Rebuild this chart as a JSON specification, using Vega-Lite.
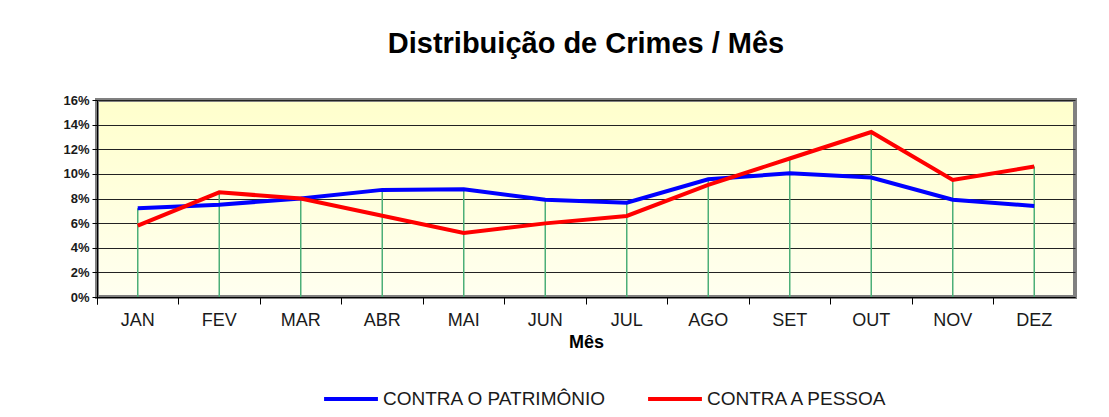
{
  "$schema": "https://vega.github.io/schema/vega-lite/v6.json",
  "width": 978,
  "height": 197,
  "autosize": "none",
  "padding": {"left": 97, "top": 100, "right": 34, "bottom": 120},
  "background": "white",
  "title": {
    "text": "Distribuição de Crimes / Mês",
    "font": "Liberation Sans",
    "fontSize": 29,
    "fontWeight": "bold",
    "color": "#000000",
    "anchor": "middle",
    "frame": "group",
    "offset": 35
  },
  "data": {
    "values": [
      {"mes": "JAN", "serie": "CONTRA O PATRIMÔNIO", "valor": 0.072},
      {"mes": "FEV", "serie": "CONTRA O PATRIMÔNIO", "valor": 0.075},
      {"mes": "MAR", "serie": "CONTRA O PATRIMÔNIO", "valor": 0.080},
      {"mes": "ABR", "serie": "CONTRA O PATRIMÔNIO", "valor": 0.087},
      {"mes": "MAI", "serie": "CONTRA O PATRIMÔNIO", "valor": 0.0875},
      {"mes": "JUN", "serie": "CONTRA O PATRIMÔNIO", "valor": 0.079},
      {"mes": "JUL", "serie": "CONTRA O PATRIMÔNIO", "valor": 0.0766},
      {"mes": "AGO", "serie": "CONTRA O PATRIMÔNIO", "valor": 0.0956},
      {"mes": "SET", "serie": "CONTRA O PATRIMÔNIO", "valor": 0.1005},
      {"mes": "OUT", "serie": "CONTRA O PATRIMÔNIO", "valor": 0.097},
      {"mes": "NOV", "serie": "CONTRA O PATRIMÔNIO", "valor": 0.079},
      {"mes": "DEZ", "serie": "CONTRA O PATRIMÔNIO", "valor": 0.074},
      {"mes": "JAN", "serie": "CONTRA A PESSOA", "valor": 0.058},
      {"mes": "FEV", "serie": "CONTRA A PESSOA", "valor": 0.085},
      {"mes": "MAR", "serie": "CONTRA A PESSOA", "valor": 0.080},
      {"mes": "ABR", "serie": "CONTRA A PESSOA", "valor": 0.066},
      {"mes": "MAI", "serie": "CONTRA A PESSOA", "valor": 0.052},
      {"mes": "JUN", "serie": "CONTRA A PESSOA", "valor": 0.0598},
      {"mes": "JUL", "serie": "CONTRA A PESSOA", "valor": 0.0658},
      {"mes": "AGO", "serie": "CONTRA A PESSOA", "valor": 0.091},
      {"mes": "SET", "serie": "CONTRA A PESSOA", "valor": 0.1125},
      {"mes": "OUT", "serie": "CONTRA A PESSOA", "valor": 0.134},
      {"mes": "NOV", "serie": "CONTRA A PESSOA", "valor": 0.095},
      {"mes": "DEZ", "serie": "CONTRA A PESSOA", "valor": 0.106}
    ]
  },
  "layer": [
    {
      "transform": [
        {"aggregate": [{"op": "max", "field": "valor", "as": "maximo"}], "groupby": ["mes"]}
      ],
      "mark": {"type": "rule", "color": "#4CAF78", "strokeWidth": 1.5},
      "encoding": {
        "x": {"field": "mes", "type": "nominal", "sort": null},
        "y": {
          "field": "maximo",
          "type": "quantitative",
          "scale": {"domain": [0, 0.16], "nice": false},
          "axis": {
            "title": null,
            "format": ".0%",
            "tickCount": 20,
            "values": [0, 0.02, 0.04, 0.06, 0.08, 0.1, 0.12, 0.14, 0.16],
            "labelOverlap": false,
            "labelFlush": false,
            "grid": true,
            "gridColor": "#222222",
            "gridWidth": 1,
            "domainColor": "#000000",
            "tickColor": "#000000",
            "tickSize": 5,
            "labelFont": "Liberation Sans",
            "labelFontSize": 13,
            "labelFontWeight": "bold",
            "labelColor": "#1a1a1a",
            "labelPadding": 3
          }
        },
        "y2": {"datum": 0}
      }
    },
    {
      "mark": {"type": "line", "strokeWidth": 4, "strokeJoin": "miter", "strokeCap": "butt"},
      "encoding": {
        "x": {
          "field": "mes",
          "type": "nominal",
          "sort": ["JAN", "FEV", "MAR", "ABR", "MAI", "JUN", "JUL", "AGO", "SET", "OUT", "NOV", "DEZ"],
          "scale": {"type": "band", "paddingInner": 0, "paddingOuter": 0},
          "axis": {
            "title": "Mês",
            "labelAngle": 0,
            "bandPosition": 0,
            "tickExtra": true,
            "labelAlign": "center",
            "labelFlush": false,
            "labelOverlap": false,
            "domainColor": "#000000",
            "domainWidth": 1,
            "tickColor": "#000000",
            "tickSize": 7,
            "labelFont": "Liberation Sans",
            "labelFontSize": 18,
            "labelColor": "#1a1a1a",
            "labelPadding": 16,
            "titleFont": "Liberation Sans",
            "titleFontSize": 18,
            "titleFontWeight": "bold",
            "titleColor": "#000000",
            "titlePadding": 4,
            "grid": false
          }
        },
        "y": {"field": "valor", "type": "quantitative"},
        "color": {
          "field": "serie",
          "type": "nominal",
          "scale": {"domain": ["CONTRA O PATRIMÔNIO", "CONTRA A PESSOA"], "range": ["#0000FF", "#FF0000"]},
          "legend": {
            "title": null,
            "orient": "none",
            "direction": "horizontal",
            "legendX": 225,
            "legendY": 270,
            "symbolType": "stroke",
            "symbolSize": 2900,
            "symbolStrokeWidth": 4,
            "labelFont": "Liberation Sans",
            "labelFontSize": 19,
            "labelLimit": 0,
            "labelColor": "#1a1a1a",
            "labelOffset": 3,
            "columnPadding": 33,
            "padding": 0
          }
        }
      }
    }
  ],
  "config": {
    "view": {
      "stroke": "#808080",
      "strokeWidth": 4,
      "fill": {
        "gradient": "linear",
        "x1": 0, "y1": 0, "x2": 0, "y2": 1,
        "stops": [
          {"offset": 0, "color": "#FFFFCC"},
          {"offset": 1, "color": "#FFFFF0"}
        ]
      }
    }
  }
}
